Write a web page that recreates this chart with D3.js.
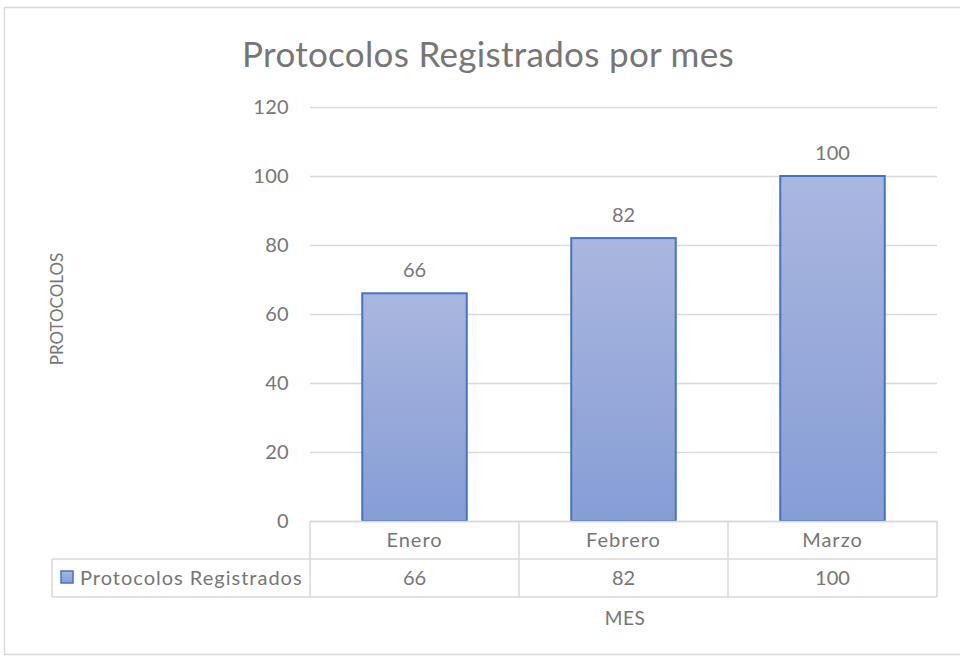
<!DOCTYPE html>
<html><head><meta charset="utf-8">
<script src="https://cdn.jsdelivr.net/npm/d3@7"></script>
<style>body{margin:0;background:#fff}svg{display:block}text{font-family:Lato,"Open Sans",sans-serif;fill:#767676}</style>
</head><body>
<script>
const categories = ["Enero","Febrero","Marzo"];
const values = [66,82,100];
const seriesName = "Protocolos Registrados";
const yTicks = [0,20,40,60,80,100,120];
const title = "Protocolos Registrados por mes";
const yTitle = "PROTOCOLOS";
const xTitle = "MES";

const W=960,H=660;
const svg=d3.select("body").append("svg").attr("width",W).attr("height",H);
const defs=svg.append("defs");
const g=defs.append("linearGradient").attr("id","bg").attr("x1",0).attr("y1",0).attr("x2",0).attr("y2",1);
g.append("stop").attr("offset","0%").attr("stop-color","#aab7df");
g.append("stop").attr("offset","100%").attr("stop-color","#869dd6");

svg.append("rect").attr("x",4.5).attr("y",7.5).attr("width",W+10).attr("height",H-13).attr("fill","#fff").attr("stroke","#d9d9d9").attr("stroke-width",1.5);

const L=310,R=937,T=107,B=521;
const x=d3.scaleBand().domain(categories).range([L,R]).paddingInner(0).paddingOuter(0);
const y=d3.scaleLinear().domain([0,120]).range([B,T]);

// gridlines
svg.append("g").selectAll("line").data(yTicks).join("line")
 .attr("x1",L).attr("x2",R).attr("y1",d=>Math.round(y(d))+0.5).attr("y2",d=>Math.round(y(d))+0.5)
 .attr("stroke","#d9d9d9").attr("stroke-width",1.5);

// y tick labels
svg.append("g").selectAll("text").data(yTicks).join("text")
 .attr("x",289).attr("y",d=>y(d)).attr("dy","0.35em").attr("text-anchor","end")
 .attr("font-size",20).attr("letter-spacing",0.3).text(d=>d);

// bars
const bw=x.bandwidth()*0.5;
svg.append("g").selectAll("rect").data(values).join("rect")
 .attr("x",(d,i)=>x(categories[i])+x.bandwidth()/2-bw/2)
 .attr("y",d=>y(d)).attr("width",bw).attr("height",d=>B-y(d))
 .attr("fill","url(#bg)").attr("stroke","#4472c4").attr("stroke-width",2);

// data labels
svg.append("g").selectAll("text").data(values).join("text")
 .attr("x",(d,i)=>x(categories[i])+x.bandwidth()/2).attr("y",d=>y(d)-16)
 .attr("text-anchor","middle").attr("font-size",20).text(d=>d);

// data table
const rowTop=B, rowMid=559, rowBot=597, legL=52;
const tl=svg.append("g").attr("stroke","#d9d9d9").attr("stroke-width",1.5);
tl.append("line").attr("x1",L).attr("x2",R).attr("y1",rowTop+0.5).attr("y2",rowTop+0.5);
tl.append("line").attr("x1",legL).attr("x2",R).attr("y1",rowMid).attr("y2",rowMid);
tl.append("line").attr("x1",legL).attr("x2",R).attr("y1",rowBot).attr("y2",rowBot);
tl.append("line").attr("x1",legL).attr("x2",legL).attr("y1",rowMid).attr("y2",rowBot);
const vx=[L,...categories.map(c=>x(c)+x.bandwidth())];
tl.selectAll(".v").data(vx).join("line").attr("x1",d=>d).attr("x2",d=>d).attr("y1",rowTop).attr("y2",rowBot);

svg.append("g").selectAll("text").data(categories).join("text")
 .attr("x",d=>x(d)+x.bandwidth()/2).attr("y",(rowTop+rowMid)/2).attr("dy","0.35em")
 .attr("text-anchor","middle").attr("font-size",20).attr("letter-spacing",1).text(d=>d);
svg.append("g").selectAll("text").data(values).join("text")
 .attr("x",(d,i)=>x(categories[i])+x.bandwidth()/2).attr("y",(rowMid+rowBot)/2).attr("dy","0.35em")
 .attr("text-anchor","middle").attr("font-size",20).text(d=>d);

svg.append("rect").attr("x",61).attr("y",571).attr("width",12).attr("height",12)
 .attr("fill","url(#bg)").attr("stroke","#4472c4").attr("stroke-width",1.5);
svg.append("text").attr("x",80).attr("y",(rowMid+rowBot)/2).attr("dy","0.35em")
 .attr("font-size",20).attr("letter-spacing",1).text(seriesName);

// titles
svg.append("text").attr("x",488).attr("y",55).attr("dy","0.35em").attr("text-anchor","middle")
 .attr("font-size",35).attr("letter-spacing",0.3).text(title);
svg.append("text").attr("transform","translate(57,309) rotate(-90)").attr("dy","0.35em")
 .attr("text-anchor","middle").attr("font-size",17).text(yTitle);
svg.append("text").attr("x",625).attr("y",618).attr("dy","0.35em").attr("text-anchor","middle")
 .attr("font-size",19).attr("letter-spacing",0.5).text(xTitle);
</script>
</body></html>
